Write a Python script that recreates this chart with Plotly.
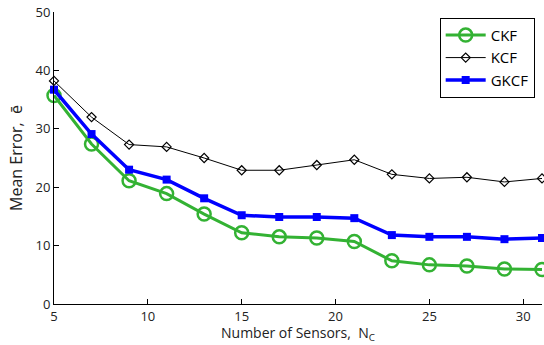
import plotly.graph_objects as go

sensors = [5, 7, 9, 11, 13, 15, 17, 19, 21, 23, 25, 27, 29, 31]
ckf = [35.7, 27.4, 21.1, 18.9, 15.4, 12.2, 11.5, 11.3, 10.7, 7.4, 6.7, 6.5, 6.0, 5.9]
kcf = [38.2, 32.0, 27.3, 26.9, 25.0, 22.9, 22.9, 23.8, 24.7, 22.2, 21.5, 21.7, 20.9, 21.5]
gkcf = [36.7, 29.1, 23.0, 21.3, 18.1, 15.2, 14.9, 14.9, 14.7, 11.8, 11.5, 11.5, 11.1, 11.3]

font = "Open Sans, DejaVu Sans, sans-serif"

fig = go.Figure()
fig.add_trace(go.Scatter(
    x=sensors, y=ckf, name="CKF", mode="lines+markers", cliponaxis=False,
    line=dict(color="#33b233", width=3),
    marker=dict(symbol="circle-open", size=13, color="#33b233", line=dict(width=2.5, color="#33b233")),
))
fig.add_trace(go.Scatter(
    x=sensors, y=kcf, name="KCF", mode="lines+markers", cliponaxis=False,
    line=dict(color="black", width=1),
    marker=dict(symbol="diamond-open", size=7, color="black", line=dict(width=1.2, color="black")),
))
fig.add_trace(go.Scatter(
    x=sensors, y=gkcf, name="GKCF", mode="lines+markers", cliponaxis=False,
    line=dict(color="#0000ff", width=3.5),
    marker=dict(symbol="square", size=8, color="#0000ff"),
))

fig.update_layout(
    width=544, height=345,
    margin=dict(l=54, r=2, t=12, b=41),
    paper_bgcolor="white", plot_bgcolor="white",
    font=dict(family=font, size=12, color="#222"),
    legend=dict(x=0.985, y=0.98, xanchor="right", yanchor="top",
                bordercolor="black", borderwidth=1, bgcolor="white",
                font=dict(size=15, color="black"), itemwidth=40,
                tracegroupgap=0),
    xaxis=dict(range=[5, 31], tickvals=[5, 10, 15, 20, 25, 30],
               showline=True, linecolor="black", linewidth=1,
               ticks="inside", ticklen=5, tickcolor="black",
               showgrid=False, zeroline=False, mirror=False,
               tickfont=dict(size=13)),
    yaxis=dict(range=[0, 50], tickvals=[0, 10, 20, 30, 40, 50],
               showline=True, linecolor="black", linewidth=1,
               ticks="inside", ticklen=5, tickcolor="black",
               showgrid=False, zeroline=False, mirror=False,
               title=dict(text="Mean Error,  ē", font=dict(size=16), standoff=8),
               tickfont=dict(size=13)),
    annotations=[dict(text="Number of Sensors,  N<sub>C</sub>", xref="paper", yref="paper",
                      x=0.5, y=0, yshift=-17, xanchor="center", yanchor="top",
                      showarrow=False, font=dict(size=14, color="#222"))],
)

fig.write_html("out.html")
